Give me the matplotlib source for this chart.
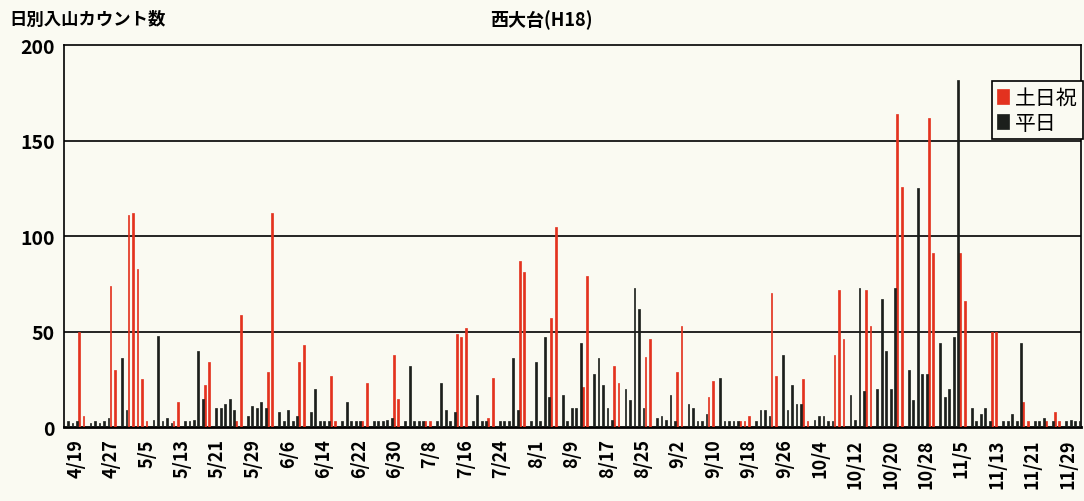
import numpy as np
import matplotlib.pyplot as plt

plt.rcParams['font.family'] = ['Noto Sans CJK JP', 'DejaVu Sans']

# 4/19 .. 11/30 (H18), one row per week starting on Wednesday
donichi = [
    0, 0, 0, 50, 6, 0, 0,
    0, 0, 0, 74, 30, 0, 0,
    111, 112, 83, 25, 3, 0, 0,
    0, 0, 0, 3, 13, 0, 0,
    0, 0, 0, 22, 34, 0, 0,
    0, 0, 0, 3, 59, 0, 0,
    0, 0, 0, 29, 112, 0, 0,
    0, 0, 0, 34, 43, 0, 0,
    0, 0, 0, 27, 3, 0, 0,
    0, 0, 0, 3, 23, 0, 0,
    0, 0, 0, 38, 15, 0, 0,
    0, 0, 0, 3, 3, 0, 0,
    0, 0, 0, 49, 47, 52, 0,
    0, 0, 0, 5, 26, 0, 0,
    0, 0, 0, 87, 81, 0, 0,
    0, 0, 0, 57, 105, 0, 0,
    0, 0, 0, 21, 79, 0, 0,
    0, 0, 0, 32, 23, 0, 0,
    0, 0, 0, 37, 46, 0, 0,
    0, 0, 0, 29, 53, 0, 0,
    0, 0, 0, 16, 24, 0, 0,
    0, 0, 0, 3, 3, 6, 0,
    0, 0, 0, 70, 27, 0, 0,
    0, 0, 0, 25, 3, 0, 0,
    0, 0, 0, 38, 72, 46, 0,
    0, 0, 0, 72, 53, 0, 0,
    0, 0, 0, 164, 126, 0, 0,
    0, 0, 0, 162, 91, 0, 0,
    0, 0, 0, 91, 66, 0, 0,
    0, 0, 0, 50, 50, 0, 0,
    0, 0, 0, 13, 3, 0, 0,
    0, 3, 0, 8, 3, 0, 0,
    0, 0,
]

heijitsu = [
    3, 2, 3, 0, 0, 2, 3,
    2, 3, 5, 0, 0, 36, 9,
    0, 0, 0, 0, 0, 4, 48,
    3, 5, 2, 0, 0, 3, 3,
    4, 40, 15, 0, 0, 10, 10,
    12, 15, 9, 0, 0, 6, 11,
    10, 13, 10, 0, 0, 8, 3,
    9, 3, 6, 0, 0, 8, 20,
    3, 3, 3, 0, 0, 3, 13,
    3, 3, 3, 0, 0, 3, 3,
    3, 4, 5, 0, 0, 3, 32,
    3, 3, 3, 0, 0, 3, 23,
    9, 3, 8, 0, 0, 0, 3,
    17, 3, 3, 0, 0, 3, 3,
    3, 36, 9, 0, 0, 3, 34,
    3, 47, 16, 0, 0, 17, 3,
    10, 10, 44, 0, 0, 28, 36,
    22, 10, 4, 0, 0, 20, 14,
    73, 62, 10, 0, 0, 5, 6,
    4, 17, 3, 0, 0, 12, 10,
    3, 3, 7, 0, 0, 26, 3,
    3, 3, 3, 0, 0, 0, 3,
    9, 9, 6, 0, 0, 38, 9,
    22, 12, 12, 0, 0, 4, 6,
    6, 3, 3, 0, 0, 0, 17,
    4, 73, 19, 0, 0, 20, 67,
    40, 20, 73, 0, 0, 30, 14,
    125, 28, 28, 0, 0, 44, 16,
    20, 47, 182, 0, 0, 10, 3,
    7, 10, 3, 0, 0, 3, 3,
    7, 3, 44, 0, 0, 3, 3,
    5, 0, 3, 0, 0, 3, 4,
    3, 3,
]

tick_labels = ['4/19', '4/27', '5/5', '5/13', '5/21', '5/29', '6/6', '6/14',
               '6/22', '6/30', '7/8', '7/16', '7/24', '8/1', '8/9', '8/17',
               '8/25', '9/2', '9/10', '9/18', '9/26', '10/4', '10/12',
               '10/20', '10/28', '11/5', '11/13', '11/21', '11/29']

paper = '#fafaf2'
red = '#e3321f'
dark = '#1c1f1c'

fig = plt.figure(figsize=(10.84, 5.02), dpi=100, facecolor=paper)
ax = fig.add_axes([0.0595, 0.147, 0.9375, 0.761])
ax.set_facecolor(paper)

x = np.arange(len(donichi))
w = 0.4
ax.bar(x - 0.277, donichi, width=w, color=red, edgecolor=red, lw=0.5,
       label='土日祝', zorder=3)
ax.bar(x + 0.277, heijitsu, width=w, color=dark, edgecolor=dark, lw=0.5,
       label='平日', zorder=3)

ax.set_xlim(-0.5, len(donichi) - 0.5)
ax.set_ylim(0, 200)
ax.set_yticks([0, 50, 100, 150, 200])
ax.set_yticklabels(['0', '50', '100', '150', '200'], fontsize=14, fontweight='bold')
ax.tick_params(axis='y', length=0, pad=7)
for v in [50, 100, 150]:
    ax.axhline(v, color='black', lw=1.2, zorder=2)

# the printed date labels are spread a bit tighter than the day columns
ax.set_xticks(np.linspace(2.0, 222.6, len(tick_labels)))
ax.set_xticklabels(tick_labels, rotation=90, fontsize=13, fontweight='bold')
ax.tick_params(axis='x', length=0, pad=8)

for s in ['top', 'right', 'left']:
    ax.spines[s].set_linewidth(1.2)
ax.spines['bottom'].set_linewidth(2)

leg = ax.legend(loc='upper right', bbox_to_anchor=(1.002, 0.905), fontsize=15,
                frameon=True, fancybox=False, edgecolor='black', handlelength=0.55,
                handleheight=0.75, handletextpad=0.3, borderpad=0.25, labelspacing=0.15,
                borderaxespad=0)
leg.get_frame().set_linewidth(1.2)
leg.get_frame().set_facecolor(paper)
leg.get_frame().set_alpha(1)

fig.text(0.009, 0.96, '日別入山カウント数', fontsize=12.5, fontweight='bold', va='center')
fig.text(0.452, 0.96, '西大台(H18)', fontsize=13, fontweight='bold', va='center')

fig.savefig('out.png', dpi=100, facecolor=paper)
